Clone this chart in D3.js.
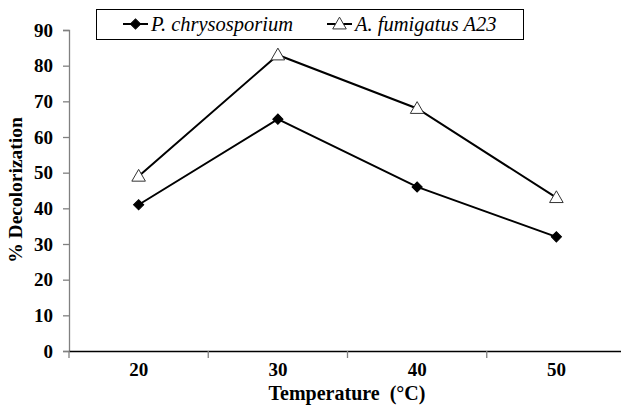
<!DOCTYPE html>
<html><head><meta charset="utf-8">
<script src="https://cdn.jsdelivr.net/npm/d3@7"></script>
<style>body{margin:0;background:#fff}svg{display:block}
svg text{font-family:"Liberation Serif","Times New Roman",Times,serif;white-space:pre}</style>
</head><body>
<script>
const categories = [20, 30, 40, 50];
const pChrysosporium = [41, 65, 46, 32];
const aFumigatus = [49, 83, 68, 43];
const yTicks = [0, 10, 20, 30, 40, 50, 60, 70, 80, 90];
const seriesNames = ["P. chrysosporium", "A. fumigatus A23"];

const W = 621, H = 410;
const svg = d3.select("body").append("svg").attr("width", W).attr("height", H);

const x = d3.scaleBand().domain(categories).range([69, 626]);
const y = d3.scaleLinear().domain([0, 90]).range([351, 30]);

// Y axis
const yAxis = svg.append("g").attr("transform", "translate(69,0)")
  .call(d3.axisLeft(y).tickValues(yTicks).tickSize(6).tickPadding(10));
yAxis.attr("font-family", null);
yAxis.select(".domain").attr("stroke", "#808080").attr("stroke-width", 1.3);
yAxis.selectAll(".tick line").attr("stroke", "#808080").attr("stroke-width", 1.3);
yAxis.selectAll("text").style("font-weight", "bold")
  .style("font-size", "19px").attr("fill", "#000");

// X axis
const xAxis = svg.append("g").attr("transform", "translate(0,351)")
  .call(d3.axisBottom(x).tickSize(0).tickPadding(12));
xAxis.attr("font-family", null);
xAxis.select(".domain").attr("stroke", "#000").attr("stroke-width", 1.3);
xAxis.selectAll("text").style("font-weight", "bold")
  .style("font-size", "19px").attr("fill", "#000");
xAxis.selectAll(".bt").data(categories).enter().append("line")
  .attr("x1", d => x(d)).attr("x2", d => x(d)).attr("y1", 0).attr("y2", 7)
  .attr("stroke", "#808080").attr("stroke-width", 1.3);

// Axis titles
svg.append("text").attr("x", 347).attr("y", 400).attr("text-anchor", "middle")
  .style("font-weight", "bold").style("font-size", "20px")
  .text("Temperature  (°C)");
svg.append("text").attr("transform", "translate(22,190) rotate(-90)")
  .attr("text-anchor", "middle").style("font-weight", "bold")
  .style("font-size", "19.5px").text("% Decolorization");

const cx = d => x(d) + x.bandwidth() / 2;
const line = d3.line().x((d, i) => cx(categories[i])).y(d => y(d));

const diamond = d3.symbol().type(d3.symbolSquare).size(52);
const triangle = d3.symbol().type(d3.symbolTriangle).size(80);

function markerTransform(sym, px, py) {
  return sym === diamond ? `translate(${px},${py}) rotate(45)` : `translate(${px},${py + 1})`;
}

function drawSeries(vals, sym, fill, stroke) {
  svg.append("path").datum(vals).attr("d", line).attr("fill", "none")
    .attr("stroke", "#000").attr("stroke-width", 2);
  svg.append("g").selectAll("path").data(vals).enter().append("path")
    .attr("d", sym)
    .attr("transform", (d, i) => markerTransform(sym, cx(categories[i]), y(d)))
    .attr("fill", fill).attr("stroke", stroke).attr("stroke-width", 1);
}
drawSeries(pChrysosporium, diamond, "#000", "#000");
drawSeries(aFumigatus, triangle, "#fff", "#333");

// Legend
const lg = svg.append("g");
lg.append("rect").attr("x", 96.5).attr("y", 9.5).attr("width", 427).attr("height", 30)
  .attr("fill", "#fff").attr("stroke", "#000").attr("stroke-width", 1);
const items = [
  {name: seriesNames[0], x0: 123, sym: diamond, fill: "#000", stroke: "#000"},
  {name: seriesNames[1], x0: 327, sym: triangle, fill: "#fff", stroke: "#333"}
];
items.forEach(it => {
  lg.append("line").attr("x1", it.x0).attr("x2", it.x0 + 25).attr("y1", 24).attr("y2", 24)
    .attr("stroke", "#000").attr("stroke-width", 2);
  lg.append("path").attr("d", it.sym).attr("transform", markerTransform(it.sym, it.x0 + 12.5, 24))
    .attr("fill", it.fill).attr("stroke", it.stroke);
  lg.append("text").attr("x", it.x0 + 28).attr("y", 31)
    .style("font-style", "italic").style("font-size", "20.5px").text(it.name);
});
</script>
</body></html>
